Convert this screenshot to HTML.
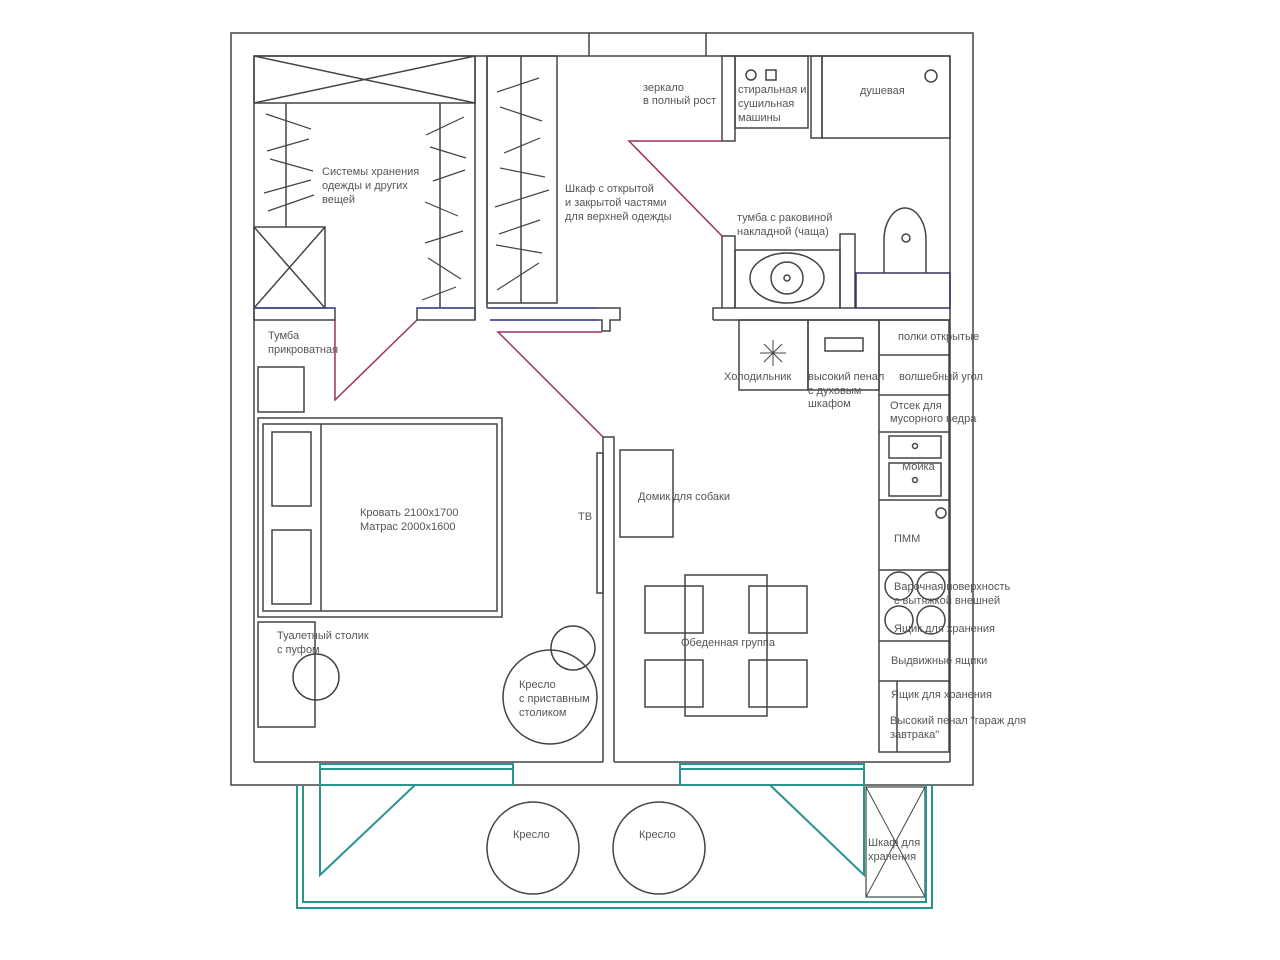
<!DOCTYPE html>
<html><head><meta charset="utf-8"><style>
html,body{margin:0;padding:0;background:#fff;}
svg{display:block;}
text{font-family:"Liberation Sans",sans-serif;font-size:11px;fill:#555;}
</style></head><body>
<svg width="1280" height="960" viewBox="0 0 1280 960" xmlns="http://www.w3.org/2000/svg">
<g fill="none" stroke="#444" stroke-width="1.5">
<!-- outer walls -->
<rect x="231" y="33" width="742" height="752"/>
<line x1="589" y1="33" x2="589" y2="56"/><line x1="706" y1="33" x2="706" y2="56"/>
<line x1="254" y1="56" x2="950" y2="56"/>
<line x1="254" y1="56" x2="254" y2="762"/>
<line x1="950" y1="56" x2="950" y2="762"/>
<line x1="254" y1="762" x2="603" y2="762"/>
<line x1="614" y1="762" x2="950" y2="762"/>
<!-- bedroom/dining partition -->
<polyline points="603,762 603,437 614,437 614,762"/>
<!-- wardrobe partition -->
<polyline points="475,56 475,320"/><polyline points="487,56 487,308"/>
<!-- horizontal walls y308-320 -->
<rect x="254" y="308" width="81" height="12"/>
<rect x="417" y="308" width="58" height="12"/>
<polyline points="487,308 620,308 620,320 610,320 610,331 602,331 602,320 490,320"/>
<!-- closet room -->
<rect x="254" y="56" width="221" height="47"/>
<line x1="254" y1="56" x2="475" y2="103"/><line x1="475" y1="56" x2="254" y2="103"/>
<line x1="286" y1="103" x2="286" y2="227"/>
<rect x="254" y="227" width="71" height="81"/>
<line x1="254" y1="227" x2="325" y2="308"/><line x1="325" y1="227" x2="254" y2="308"/>
<line x1="440" y1="103" x2="440" y2="308"/>
<g stroke-width="1.2">
<line x1="266" y1="114" x2="311" y2="129"/><line x1="267" y1="151" x2="309" y2="139"/>
<line x1="270" y1="159" x2="313" y2="171"/><line x1="264" y1="193" x2="311" y2="180"/>
<line x1="268" y1="211" x2="314" y2="195"/>
<line x1="426" y1="135" x2="464" y2="117"/><line x1="430" y1="147" x2="466" y2="158"/>
<line x1="433" y1="181" x2="465" y2="170"/><line x1="425" y1="202" x2="458" y2="216"/>
<line x1="425" y1="243" x2="463" y2="231"/><line x1="428" y1="258" x2="461" y2="279"/>
<line x1="422" y1="300" x2="456" y2="287"/>
<line x1="497" y1="92" x2="539" y2="78"/><line x1="500" y1="107" x2="542" y2="121"/>
<line x1="504" y1="153" x2="540" y2="138"/><line x1="500" y1="168" x2="545" y2="177"/>
<line x1="495" y1="207" x2="549" y2="190"/><line x1="499" y1="234" x2="540" y2="220"/>
<line x1="496" y1="245" x2="542" y2="253"/><line x1="497" y1="290" x2="539" y2="263"/>
</g>
<!-- wardrobe 2 -->
<rect x="487" y="56" width="70" height="247"/>
<line x1="521" y1="56" x2="521" y2="303"/>
<!-- mirror wall -->
<rect x="722" y="56" width="13" height="85"/>
<!-- bathroom -->
<rect x="735" y="56" width="73" height="72"/>
<circle cx="751" cy="75" r="5"/><rect x="766" y="70" width="10" height="10"/>
<rect x="811" y="56" width="11" height="82"/>
<rect x="822" y="56" width="128" height="82"/>
<circle cx="931" cy="76" r="6"/>
<polyline points="722,236 735,236 735,308"/>
<line x1="722" y1="236" x2="722" y2="308"/>
<polyline points="713,320 713,308 735,308"/>
<line x1="713" y1="320" x2="950" y2="320"/>
<rect x="735" y="250" width="105" height="58"/>
<ellipse cx="787" cy="278" rx="37" ry="25"/>
<circle cx="787" cy="278" r="16"/><circle cx="787" cy="278" r="3"/>
<rect x="840" y="234" width="15" height="74"/>
<rect x="856" y="273" width="94" height="35" stroke="#336"/>
<path d="M884,273 L884,240 A21,32 0 0 1 926,240 L926,273"/>
<circle cx="906" cy="238" r="4"/>
<!-- kitchen -->
<rect x="739" y="320" width="69" height="70"/>
<rect x="808" y="320" width="71" height="70"/>
<rect x="825" y="338" width="38" height="13"/>
<g stroke-width="1"><line x1="773" y1="340" x2="773" y2="366"/><line x1="760" y1="353" x2="786" y2="353"/><line x1="764" y1="344" x2="782" y2="362"/><line x1="782" y1="344" x2="764" y2="362"/></g>
<rect x="879" y="320" width="70" height="432"/>
<line x1="879" y1="355" x2="949" y2="355"/>
<line x1="879" y1="395" x2="949" y2="395"/>
<line x1="879" y1="432" x2="949" y2="432"/>
<line x1="879" y1="500" x2="949" y2="500"/>
<line x1="879" y1="570" x2="949" y2="570"/>
<line x1="879" y1="641" x2="949" y2="641"/>
<line x1="879" y1="681" x2="949" y2="681"/>
<line x1="897" y1="681" x2="897" y2="752"/>
<rect x="889" y="436" width="52" height="22"/><circle cx="915" cy="446" r="2.5"/>
<rect x="889" y="463" width="52" height="33"/><circle cx="915" cy="480" r="2.5"/>
<circle cx="941" cy="513" r="5"/>
<circle cx="899" cy="586" r="14"/><circle cx="931" cy="586" r="14"/>
<circle cx="899" cy="620" r="14"/><circle cx="931" cy="620" r="14"/>
<!-- bedroom -->
<rect x="258" y="418" width="244" height="199"/>
<rect x="263" y="424" width="234" height="187"/>
<line x1="321" y1="424" x2="321" y2="611"/>
<rect x="272" y="432" width="39" height="74"/>
<rect x="272" y="530" width="39" height="74"/>
<rect x="258" y="367" width="46" height="45"/>
<rect x="258" y="622" width="57" height="105"/>
<circle cx="316" cy="677" r="23"/>
<circle cx="550" cy="697" r="47"/>
<circle cx="573" cy="648" r="22"/>
<rect x="597" y="453" width="6" height="140"/>
<!-- dining -->
<rect x="620" y="450" width="53" height="87"/>
<rect x="685" y="575" width="82" height="141"/>
<rect x="645" y="586" width="58" height="47"/>
<rect x="749" y="586" width="58" height="47"/>
<rect x="645" y="660" width="58" height="47"/>
<rect x="749" y="660" width="58" height="47"/>
<!-- balcony -->
<ellipse cx="533" cy="848" rx="46" ry="46"/>
<ellipse cx="659" cy="848" rx="46" ry="46"/>
<rect x="866" y="787" width="59" height="110" stroke-width="1.2"/>
<line x1="866" y1="787" x2="925" y2="897" stroke-width="1"/><line x1="925" y1="787" x2="866" y2="897" stroke-width="1"/>
</g>
<!-- door swings -->
<g fill="none" stroke="#a03060" stroke-width="1.5">
<polyline points="335,320 335,400 417,320"/>
<polyline points="602,332 498,332 603,437"/>
<polyline points="722,141 629,141 722,236"/>
</g>
<g fill="none" stroke="#444a9a" stroke-width="1.5">
<line x1="254" y1="308" x2="335" y2="308"/><line x1="417" y1="308" x2="475" y2="308"/>
<line x1="490" y1="308" x2="597" y2="308"/><line x1="490" y1="320" x2="597" y2="320"/>
</g>
<!-- teal -->
<g fill="none" stroke="#2a9490" stroke-width="2">
<rect x="320" y="764" width="193" height="21"/><line x1="320" y1="769" x2="513" y2="769"/>
<rect x="680" y="764" width="184" height="21"/><line x1="680" y1="769" x2="864" y2="769"/>
<polyline points="297,785 297,908 932,908 932,785"/>
<polyline points="303,785 303,902 926,902 926,785"/>
<polyline points="320,785 320,875 415,785"/>
<polyline points="770,785 864,875 864,785"/>
</g>
<!-- labels -->
<text x="322" y="175">Системы хранения</text>
<text x="322" y="189">одежды и других</text>
<text x="322" y="203">вещей</text>
<text x="565" y="192">Шкаф с открытой</text>
<text x="565" y="206">и закрытой частями</text>
<text x="565" y="220">для верхней одежды</text>
<text x="643" y="91">зеркало</text>
<text x="643" y="104">в полный рост</text>
<text x="738" y="93">стиральная и</text>
<text x="738" y="107">сушильная</text>
<text x="738" y="121">машины</text>
<text x="860" y="94">душевая</text>
<text x="737" y="221">тумба с раковиной</text>
<text x="737" y="235">накладной (чаща)</text>
<text x="268" y="339">Тумба</text>
<text x="268" y="353">прикроватная</text>
<text x="898" y="340">полки открытые</text>
<text x="724" y="380">Холодильник</text>
<text x="808" y="380">высокий пенал</text>
<text x="808" y="394">с духовым</text>
<text x="808" y="407">шкафом</text>
<text x="899" y="380">волшебный угол</text>
<text x="890" y="409">Отсек для</text>
<text x="890" y="422">мусорного ведра</text>
<text x="902" y="470">Мойка</text>
<text x="894" y="542">ПММ</text>
<text x="894" y="590">Варочная поверхность</text>
<text x="894" y="604">с вытяжкой внешней</text>
<text x="894" y="632">Ящик для хранения</text>
<text x="891" y="664">Выдвижные ящики</text>
<text x="891" y="698">Ящик для хранения</text>
<text x="890" y="724">Высокий пенал "гараж для</text>
<text x="890" y="738">завтрака"</text>
<text x="360" y="516">Кровать 2100х1700</text>
<text x="360" y="530">Матрас 2000х1600</text>
<text x="578" y="520">ТВ</text>
<text x="638" y="500">Домик для собаки</text>
<text x="681" y="646">Обеденная группа</text>
<text x="277" y="639">Туалетный столик</text>
<text x="277" y="653">с пуфом</text>
<text x="519" y="688">Кресло</text>
<text x="519" y="702">с приставным</text>
<text x="519" y="716">столиком</text>
<text x="513" y="838">Кресло</text>
<text x="639" y="838">Кресло</text>
<text x="868" y="846">Шкаф для</text>
<text x="868" y="860">хранения</text>
</svg>
</body></html>
